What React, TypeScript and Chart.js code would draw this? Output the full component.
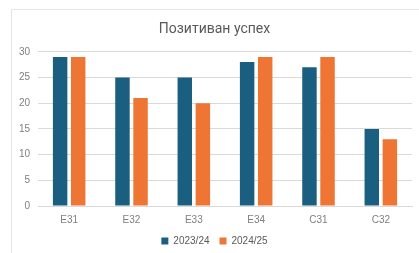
import React, { useEffect, useRef } from "react";
import { Chart, registerables } from "chart.js";

Chart.register(...registerables);

const categories = ["E31", "E32", "E33", "E34", "C31", "C32"];
const series2023 = [29, 25, 25, 28, 27, 15];
const series2024 = [29, 21, 20, 29, 29, 13];
const seriesLabels = ["2023/24", "2024/25"];
const yTicksMax = 30;
const yTicksStep = 5;
const titleText = "Позитиван успех";

const frame = {
  id: "frame",
  beforeDraw(chart: any) {
    const ctx = chart.ctx;
    ctx.save();
    ctx.strokeStyle = "#e6e6e6";
    ctx.lineWidth = 1;
    ctx.beginPath();
    ctx.moveTo(11.5, chart.height);
    ctx.lineTo(11.5, 9.5);
    ctx.lineTo(chart.width, 9.5);
    ctx.stroke();
    ctx.restore();
  },
};

export default function App() {
  const ref = useRef<HTMLCanvasElement>(null);
  useEffect(() => {
    const chart = new Chart(ref.current!, {
      type: "bar",
      data: {
        labels: categories,
        datasets: [
          {
            label: seriesLabels[0],
            data: series2023,
            backgroundColor: "#1b5f80",
            categoryPercentage: 0.58,
            barPercentage: 0.8,
          },
          {
            label: seriesLabels[1],
            data: series2024,
            backgroundColor: "#ee7534",
            categoryPercentage: 0.58,
            barPercentage: 0.8,
          },
        ],
      },
      options: {
        animation: false,
        responsive: false,
        maintainAspectRatio: false,
        layout: { padding: { left: 17, top: 14, right: 7, bottom: -3 } },
        plugins: {
          title: {
            display: true,
            text: titleText,
            color: "#595959",
            font: { family: "Roboto", size: 14, weight: "normal" },
            padding: { top: 7, bottom: 14 },
          },
          legend: {
            position: "bottom",
            labels: {
              boxWidth: 7,
              boxHeight: 7,
              color: "#595959",
              font: { family: "Liberation Sans", size: 10 },
              padding: 10,
            },
          },
          tooltip: { enabled: false },
        },
        scales: {
          x: {
            grid: { display: false },
            border: { color: "#d9d9d9" },
            ticks: { color: "#7f7f7f", font: { family: "Liberation Sans", size: 10 }, padding: 0 },
            afterFit: (s: any) => {
              s.height = 20;
            },
          },
          y: {
            min: 0,
            max: yTicksMax,
            ticks: {
              stepSize: yTicksStep,
              color: "#7f7f7f",
              font: { family: "Liberation Sans", size: 10 },
              padding: 8,
            },
            grid: { color: "#d9d9d9", drawTicks: false },
            border: { display: false },
            afterFit: (s: any) => {
              s.width = 21;
            },
          },
        },
      },
      plugins: [frame],
    });
    return () => chart.destroy();
  }, []);
  return (
    <div style={{ position: "fixed", left: 0, top: 0, width: 419, height: 253, background: "#fff" }}>
      <canvas ref={ref} width={419} height={253} style={{ width: 419, height: 253 }} />
    </div>
  );
}
